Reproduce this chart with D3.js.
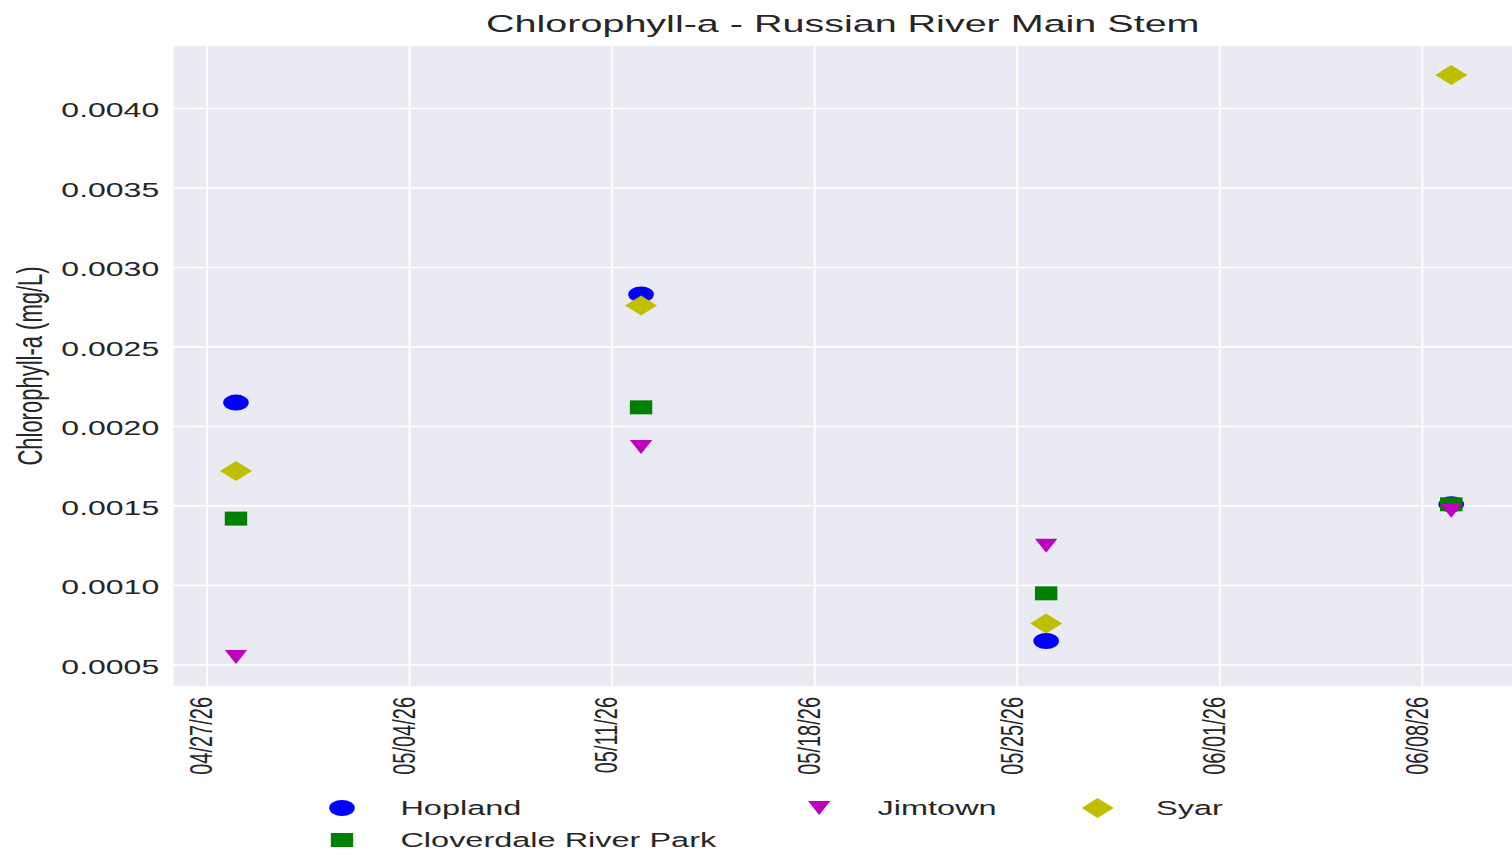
<!DOCTYPE html>
<html>
<head>
<meta charset="utf-8">
<script src="https://cdn.jsdelivr.net/npm/d3@7"></script>
<style>
  body { margin: 0; background: #fff; }
  svg { display: block; }
  text { font-family: "Liberation Sans", Arial, Helvetica, sans-serif; fill: #262626; }
</style>
</head>
<body>
<div id="chart"></div>
<script>
// figure was saved squashed then stretched, so draw in a narrow box and stretch it
const WIDTH = 1512;
const HEIGHT = 859;
const VIEW_W = 945;

const dates = ["2026-04-28", "2026-05-12", "2026-05-26", "2026-06-09"];
const hopland = [0.00215, 0.00283, 0.00065, 0.00151];
const cloverdale = [0.00142, 0.00212, 0.00095, 0.00151];
const jimtown = [0.00055, 0.00187, 0.00125, 0.00147];
const syar = [0.00172, 0.00276, 0.00076, 0.00421];
const seriesNames = ["Hopland", "Cloverdale River Park", "Jimtown", "Syar"];
const yTicks = [0.0005, 0.0010, 0.0015, 0.0020, 0.0025, 0.0030, 0.0035, 0.0040];

const parse = d3.timeParse("%Y-%m-%d");

// custom marker shapes, matplotlib-ish
const circle = { draw(ctx, s) { ctx.moveTo(s, 0); ctx.arc(0, 0, s, 0, 2 * Math.PI); } };
const square = { draw(ctx, s) { ctx.rect(-s, -s, 2 * s, 2 * s); } };
const triDown = { draw(ctx, s) { ctx.moveTo(-s, -s); ctx.lineTo(s, -s); ctx.lineTo(0, s); ctx.closePath(); } };
const diamond = { draw(ctx, s) { ctx.moveTo(0, -s); ctx.lineTo(s, 0); ctx.lineTo(0, s); ctx.lineTo(-s, 0); ctx.closePath(); } };

let series = [
  { name: seriesNames[0], values: hopland, color: "#0000ff", shape: circle, size: 8 },
  { name: seriesNames[1], values: cloverdale, color: "#008000", shape: square, size: 7 },
  { name: seriesNames[2], values: jimtown, color: "#bf00bf", shape: triDown, size: 7 },
  { name: seriesNames[3], values: syar, color: "#bfbf00", shape: diamond, size: 10 }
];

const plot = { left: 108.5, right: 945, top: 46, bottom: 686 };

var svg = d3.select("#chart").append("svg")
  .attr("width", WIDTH)
  .attr("height", HEIGHT)
  .attr("viewBox", "0 0 " + VIEW_W + " " + HEIGHT)
  .attr("preserveAspectRatio", "none");

let xDates = dates.map(parse);
let xExt = d3.extent(xDates);
let xPad = (xExt[1] - xExt[0]) * 0.05;
let xscale = d3.scaleTime()
  .domain([new Date(+xExt[0] - xPad), new Date(+xExt[1] + xPad)])
  .range([plot.left + 1, plot.right]);

let allVals = [].concat(hopland, cloverdale, jimtown, syar);
let yExt = d3.extent(allVals);
let yPad = (yExt[1] - yExt[0]) * 0.05;
let yscale = d3.scaleLinear()
  .domain([yExt[0] - yPad, yExt[1] + yPad])
  .range([plot.bottom, plot.top]);

svg.append("rect")
  .attr("x", plot.left)
  .attr("y", plot.top)
  .attr("width", plot.right - plot.left)
  .attr("height", plot.bottom - plot.top)
  .attr("fill", "#eaeaf2");

let xTicks = d3.timeMonday.range(xscale.domain()[0], xscale.domain()[1]);

// grid
svg.append("g").selectAll("line").data(yTicks).join("line")
  .attr("x1", plot.left).attr("x2", plot.right)
  .attr("y1", d => yscale(d)).attr("y2", d => yscale(d))
  .attr("stroke", "#fff").attr("stroke-width", 1.6);

svg.append("g").selectAll("line").data(xTicks).join("line")
  .attr("x1", d => xscale(d)).attr("x2", d => xscale(d))
  .attr("y1", plot.top).attr("y2", plot.bottom)
  .attr("stroke", "#fff").attr("stroke-width", 1.2);

// y axis labels
var y_axis = d3.axisLeft(yscale)
  .tickValues(yTicks)
  .tickFormat(d3.format(".4f"))
  .tickSize(0)
  .tickPadding(9);

let yg = svg.append("g")
  .attr("transform", "translate(" + plot.left + ",0)")
  .call(y_axis);
yg.select(".domain").remove();
yg.selectAll("text").attr("font-size", 20).attr("fill", "#262626")
  .attr("font-family", "Liberation Sans, Arial, sans-serif")
  .attr("dy", "0.42em");

// x axis labels, rotated
var x_axis = d3.axisBottom(xscale)
  .tickValues(xTicks)
  .tickFormat(d3.timeFormat("%m/%d/%y"))
  .tickSize(0);

let xg = svg.append("g")
  .attr("transform", "translate(0," + plot.bottom + ")")
  .call(x_axis);
xg.select(".domain").remove();
xg.selectAll("text")
  .attr("font-size", 20).attr("fill", "#262626")
  .attr("font-family", "Liberation Sans, Arial, sans-serif")
  .attr("text-anchor", "end")
  .attr("x", 0).attr("y", 0).attr("dy", "0.14em")
  .attr("transform", "translate(0,11) rotate(-90)");

// points
series.forEach(s => {
  svg.append("g").selectAll("path").data(s.values).join("path")
    .attr("d", d3.symbol().type(s.shape).size(s.size))
    .attr("transform", (d, i) => "translate(" + xscale(xDates[i]) + "," + yscale(d) + ")")
    .attr("fill", s.color);
});

// title + y label
svg.append("text")
  .attr("x", (plot.left + plot.right) / 2)
  .attr("y", 32)
  .attr("text-anchor", "middle")
  .attr("font-size", 24.7)
  .text("Chlorophyll-a - Russian River Main Stem");

svg.append("text")
  .attr("transform", "translate(26," + (plot.top + plot.bottom) / 2 + ") rotate(-90)")
  .attr("text-anchor", "middle")
  .attr("font-size", 22)
  .attr("fill", "#333")
  .text("Chlorophyll-a (mg/L)");

// legend, 3 columns filled column-wise like matplotlib
let legendPos = [[213.75, 808], [213.75, 840], [512, 808], [686, 808]];
let legend = svg.append("g");
series.forEach((s, i) => {
  let p = legendPos[i];
  legend.append("path")
    .attr("d", d3.symbol().type(s.shape).size(s.size))
    .attr("transform", "translate(" + p[0] + "," + p[1] + ")")
    .attr("fill", s.color);
  legend.append("text")
    .attr("x", p[0] + 36.5)
    .attr("y", p[1])
    .attr("dy", "0.36em")
    .attr("font-size", 20.3)
    .text(s.name);
});
</script>
</body>
</html>
